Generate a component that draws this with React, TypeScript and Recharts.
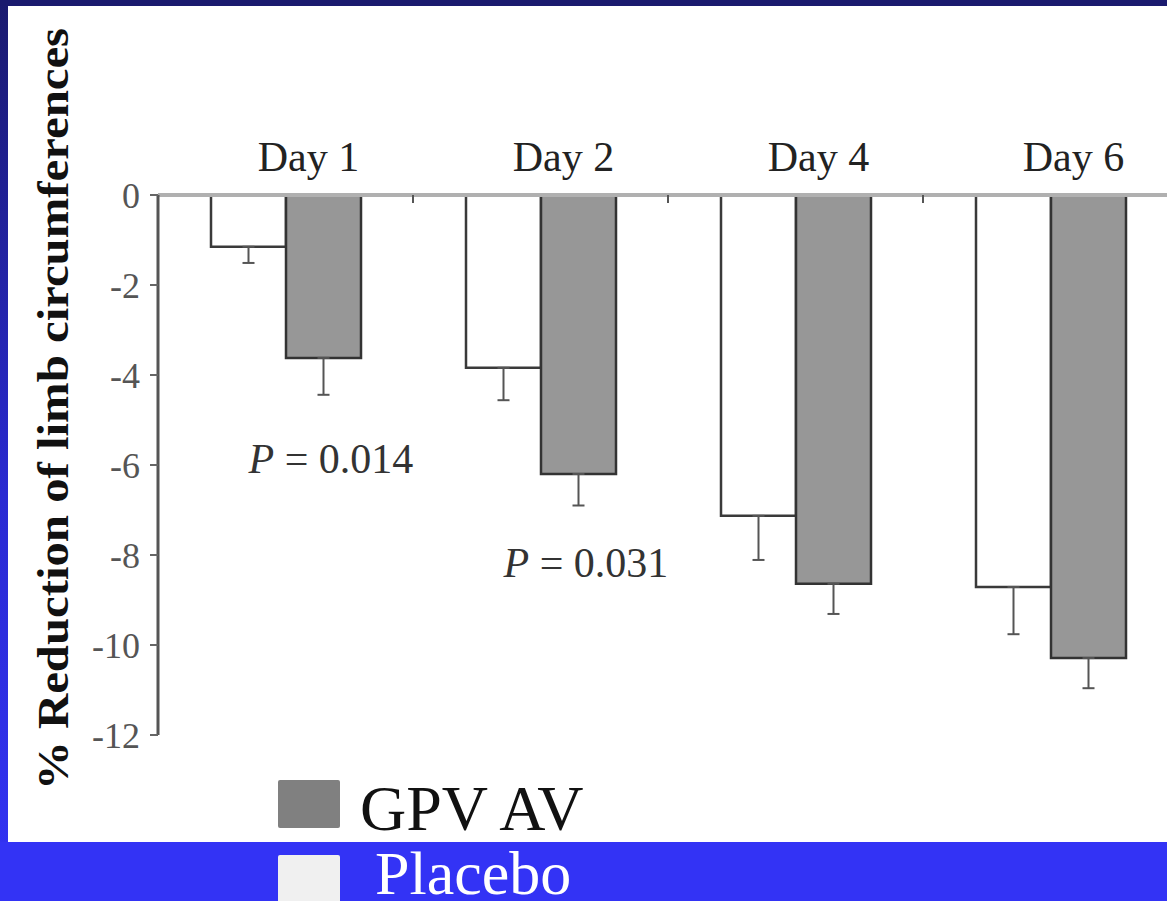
import { BarChart, Bar, XAxis, YAxis, ErrorBar, ReferenceDot, Label } from 'recharts';

const days = ['Day 1', 'Day 2', 'Day 4', 'Day 6'];
const placebo = [-1.15, -3.84, -7.13, -8.71];
const placeboErr = [0.36, 0.72, 0.98, 1.05];
const gpvAv = [-3.62, -6.2, -8.64, -10.29];
const gpvAvErr = [0.82, 0.7, 0.67, 0.67];
const yTicks = [0, -2, -4, -6, -8, -10, -12];

const pDays = ['Day 1', 'Day 2'];
const pLevels = [-6.18, -8.49];
const pValues = ['0.014', '0.031'];

const SERIF = '"Liberation Serif", "Times New Roman", serif';
const PLOT_W = 1020;
const BAND = PLOT_W / days.length;

const data = days.map((day, i) => ({
  day,
  placebo: placebo[i],
  placeboErr: [placeboErr[i], 0],
  gpvAv: gpvAv[i],
  gpvAvErr: [gpvAvErr[i], 0],
}));

const DayTick = ({ x, y, payload }: any) => (
  <g>
    <text x={x + 23} y={y - 16} textAnchor="middle" fontSize={42} fill="#222" fontFamily={SERIF}>
      {payload.value}
    </text>
    <line x1={x + BAND / 2} x2={x + BAND / 2} y1={y + 8} y2={y + 16} stroke="#555" strokeWidth={2} />
  </g>
);

const PText = (text: string) => (props: any) => (
  <text x={props.cx - 37} y={props.cy} fontSize={42} fill="#333" fontFamily={SERIF}>
    <tspan fontStyle="italic">P</tspan> = {text}
  </text>
);

export default function App() {
  return (
    <div style={{ position: 'relative', width: 1167, height: 901, overflow: 'hidden', background: 'linear-gradient(to bottom, #1a1a6e 0%, #2a2ad2 55%, #3333f5 100%)' }}>
      <style>{`body{margin:0}`}</style>
      <div style={{ position: 'absolute', left: 0, top: 0, width: 1167, height: 6, background: '#1a1a6e' }} />
      <div style={{ position: 'absolute', left: 8, top: 6, width: 1159, height: 836, background: '#fff' }} />
      <div style={{ position: 'absolute', left: 0, top: 842, width: 1167, height: 59, background: '#3333f5' }} />

      <div style={{ position: 'absolute', left: 0, top: 0 }}>
        <BarChart
          width={1180}
          height={842}
          data={data}
          margin={{ top: 145, right: 2, bottom: 107, left: 98 }}
          barGap={0}
          barSize={75}
        >
          <XAxis
            dataKey="day"
            orientation="top"
            height={50}
            axisLine={{ stroke: '#b0b0b0', strokeWidth: 4 }}
            tickLine={false}
            tick={<DayTick />}
            interval={0}
          />
          <YAxis
            type="number"
            domain={[-12, 0]}
            ticks={yTicks}
            width={60}
            axisLine={{ stroke: '#555', strokeWidth: 3 }}
            tickLine={{ stroke: '#666', strokeWidth: 2 }}
            tickSize={8}
            tickMargin={10}
            tick={{ fill: '#555', fontSize: 36, fontFamily: SERIF }}
          >
            <Label
              content={() => (
                <text
                  transform="translate(68,409) rotate(-90)"
                  textAnchor="middle"
                  fontSize={44}
                  fontWeight="bold"
                  fill="#111"
                  fontFamily={SERIF}
                  textLength={762}
                  lengthAdjust="spacingAndGlyphs"
                >
                  % Reduction of limb circumferences
                </text>
              )}
            />
          </YAxis>
          <Bar dataKey="placebo" name="Placebo" fill="#ffffff" stroke="#3a3a3a" strokeWidth={2.5} isAnimationActive={false}>
            <ErrorBar dataKey="placeboErr" width={6} stroke="#555" strokeWidth={2} direction="y" />
          </Bar>
          <Bar dataKey="gpvAv" name="GPV AV" fill="#979797" stroke="#333" strokeWidth={2.5} isAnimationActive={false}>
            <ErrorBar dataKey="gpvAvErr" width={6} stroke="#555" strokeWidth={2} direction="y" />
          </Bar>
          {pDays.map((d, i) => (
            <ReferenceDot key={d} x={d} y={pLevels[i]} r={0} shape={PText(pValues[i])} />
          ))}
        </BarChart>
      </div>

      <svg width={1167} height={901} style={{ position: 'absolute', left: 0, top: 0 }}>
        <rect x={278} y={780} width={62} height={48} rx={2} fill="#808080" />
        <text x={360} y={830} fontSize={64} fill="#111" fontFamily={SERIF}>GPV AV</text>
        <rect x={278} y={855} width={62} height={50} rx={2} fill="#f0f0f0" />
        <text x={375} y={894} fontSize={62} fill="#fff" fontFamily={SERIF}>Placebo</text>
      </svg>
    </div>
  );
}
